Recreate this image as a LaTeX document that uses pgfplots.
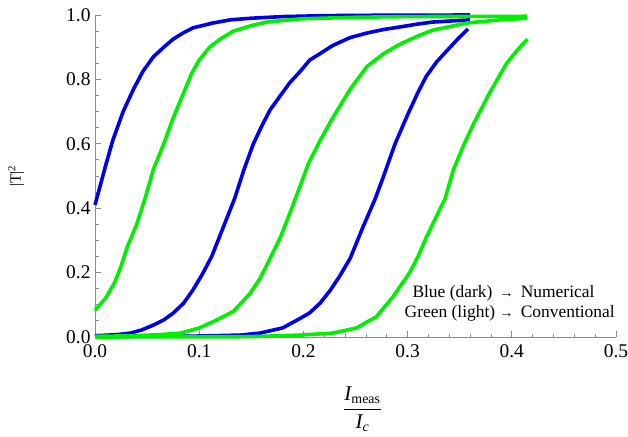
\documentclass[border=0pt]{standalone}
\usepackage{fontspec}
\setmainfont{Liberation Serif}
\usepackage{graphicx}
\usepackage{pgfplots}
\pgfplotsset{compat=1.18}
\definecolor{cblue}{RGB}{0,0,235}
\definecolor{cgreen}{RGB}{0,240,0}
\definecolor{axgray}{RGB}{140,140,140}
\begin{document}
\begin{tikzpicture}
\useasboundingbox (0,0) rectangle (628bp,437bp);
\begin{axis}[
  at={(95bp,100bp)}, anchor=south west,
  scale only axis, width=521bp, height=322bp,
  xmin=0, xmax=0.5, ymin=0, ymax=1,
  axis x line=bottom, axis y line=left,
  axis line style={-, axgray, line width=0.8bp},
  xtick={0,0.1,0.2,0.3,0.4,0.5}, ytick={0,0.2,0.4,0.6,0.8,1.0},
  xticklabels={0.0,0.1,0.2,0.3,0.4,0.5},
  yticklabels={0.0,0.2,0.4,0.6,0.8,1.0},
  minor x tick num=4, minor y tick num=3,
  tick align=inside,
  major tick length=6bp, minor tick length=3.5bp,
  tick style={axgray, line width=0.8bp},
  x tick label style={font=\rmfamily\fontsize{19.5}{21}\selectfont, black, yshift=-4bp},
  y tick label style={font=\rmfamily\fontsize{19.5}{21}\selectfont, black, xshift=-1bp},
  xlabel={$\displaystyle\frac{\textit{I}_{\mbox{\fontsize{14}{15}\selectfont meas}}}{\textit{I}_{\mbox{\fontsize{14}{15}\selectfont\itshape c}}}$},
  xlabel style={font=\fontsize{21}{23}\selectfont, at={(axis description cs:0.5,0)}, anchor=center, yshift=-72bp, xshift=7bp},
  clip=false,
  every axis plot/.append style={line width=3.6bp, line join=round},
]
% Blue (numerical)
\addplot[cblue] coordinates {(0,0.41)(0.005,0.47)(0.01,0.53)(0.017,0.61)(0.027,0.70)(0.037,0.77)(0.046,0.825)(0.056,0.87)(0.066,0.90)(0.075,0.925)(0.085,0.945)(0.094,0.96)(0.113,0.975)(0.13,0.985)(0.15,0.99)(0.18,0.995)(0.22,0.998)(0.26,0.999)(0.36,1.0)};
\addplot[cblue] coordinates {(0,0.004)(0.02,0.007)(0.034,0.012)(0.045,0.022)(0.056,0.037)(0.066,0.053)(0.075,0.074)(0.085,0.105)(0.094,0.146)(0.103,0.195)(0.112,0.25)(0.123,0.34)(0.134,0.43)(0.143,0.52)(0.152,0.60)(0.16,0.655)(0.168,0.705)(0.178,0.75)(0.187,0.79)(0.197,0.825)(0.206,0.86)(0.216,0.88)(0.228,0.905)(0.245,0.93)(0.261,0.944)(0.277,0.955)(0.293,0.963)(0.31,0.972)(0.324,0.978)(0.36,0.985)};
\addplot[cblue] coordinates {(0,0.001)(0.1,0.003)(0.14,0.006)(0.158,0.012)(0.18,0.028)(0.197,0.058)(0.206,0.075)(0.216,0.105)(0.226,0.146)(0.235,0.19)(0.245,0.245)(0.257,0.34)(0.269,0.43)(0.277,0.50)(0.288,0.60)(0.30,0.69)(0.31,0.76)(0.318,0.81)(0.328,0.855)(0.338,0.89)(0.348,0.925)(0.358,0.957)};
% Green (conventional)
\addplot[cgreen] coordinates {(0,0.083)(0.01,0.12)(0.019,0.17)(0.025,0.22)(0.031,0.28)(0.040,0.35)(0.048,0.43)(0.056,0.52)(0.066,0.60)(0.075,0.68)(0.084,0.75)(0.093,0.82)(0.10,0.86)(0.110,0.90)(0.12,0.925)(0.133,0.95)(0.15,0.967)(0.165,0.978)(0.197,0.988)(0.25,0.993)(0.30,0.995)(0.415,0.996)};
\addplot[cgreen] coordinates {(0,0.002)(0.04,0.004)(0.065,0.008)(0.082,0.012)(0.10,0.028)(0.117,0.053)(0.133,0.08)(0.149,0.136)(0.158,0.18)(0.165,0.224)(0.178,0.31)(0.19,0.41)(0.197,0.47)(0.205,0.54)(0.216,0.61)(0.228,0.68)(0.245,0.77)(0.261,0.84)(0.277,0.88)(0.293,0.91)(0.31,0.935)(0.324,0.953)(0.357,0.975)(0.389,0.985)(0.415,0.99)};
\addplot[cgreen] coordinates {(0,0.0)(0.15,0.001)(0.197,0.006)(0.228,0.012)(0.251,0.028)(0.27,0.063)(0.286,0.125)(0.302,0.2)(0.31,0.25)(0.318,0.31)(0.327,0.37)(0.336,0.43)(0.344,0.52)(0.353,0.59)(0.363,0.66)(0.379,0.76)(0.395,0.85)(0.405,0.89)(0.415,0.925)};
\node[font=\fontsize{17.5}{19}\selectfont, anchor=base, inner sep=0pt] at (axis cs:0.392,0.124) {Blue (dark) \,{\fontsize{14}{15}\selectfont →}\, Numerical};
\node[font=\fontsize{17.5}{19}\selectfont, anchor=base, inner sep=0pt] at (axis cs:0.398,0.062) {Green (light) {\fontsize{14}{15}\selectfont →}\, Conventional};
\end{axis}
\node[font=\rmfamily\fontsize{15.5}{17}\selectfont, anchor=center, inner sep=0pt] at (16bp,261bp) {\rotatebox{90}{|T|\textsuperscript{2}}};
\end{tikzpicture}
\end{document}
